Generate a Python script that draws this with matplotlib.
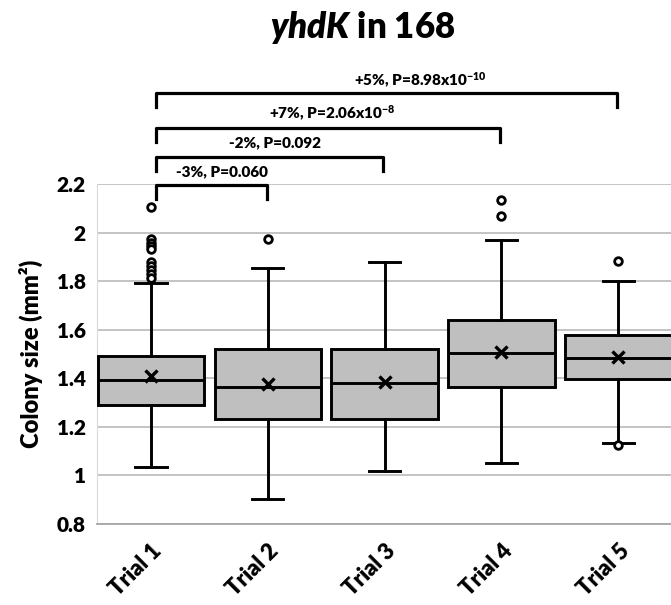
import matplotlib.pyplot as plt
from matplotlib.ticker import FuncFormatter

plt.rcParams['font.family'] = ['Lato', 'DejaVu Sans']
plt.rcParams['font.weight'] = 'heavy'
plt.rcParams['axes.labelweight'] = 'heavy'
plt.rcParams['mathtext.fontset'] = 'custom'
plt.rcParams['mathtext.rm'] = 'Lato:heavy'
plt.rcParams['mathtext.bf'] = 'Lato:heavy'
plt.rcParams['mathtext.bfit'] = 'Lato:italic:heavy'
plt.rcParams['mathtext.default'] = 'bf'

# colony size summary per trial (mm^2)
trials = ["Trial 1", "Trial 2", "Trial 3", "Trial 4", "Trial 5"]
q1 = [1.289, 1.232, 1.232, 1.363, 1.397]
medians = [1.393, 1.364, 1.383, 1.505, 1.485]
q3 = [1.493, 1.521, 1.521, 1.640, 1.579]
means = [1.411, 1.375, 1.385, 1.508, 1.487]
whisker_low = [1.033, 0.901, 1.019, 1.052, 1.132]
whisker_high = [1.793, 1.856, 1.881, 1.970, 1.800]
outliers = [
    [2.105, 1.975, 1.960, 1.945, 1.932, 1.878, 1.862, 1.846, 1.830, 1.813],
    [1.976],
    [],
    [2.135, 2.071],
    [1.885, 1.125],
]

# pairwise comparisons against trial 1
comparisons = [(1, 2), (1, 3), (1, 4), (1, 5)]
comparison_labels = ["-3%, P=0.060", "-2%, P=0.092",
                     "+7%, P=2.06x10$^{-8}$", "+5%, P=8.98x10$^{-10}$"]

stats = []
for i in range(len(trials)):
    stats.append(dict(label=trials[i], q1=q1[i], med=medians[i], q3=q3[i],
                      mean=means[i], whislo=whisker_low[i],
                      whishi=whisker_high[i], fliers=outliers[i]))

fig = plt.figure(figsize=(6.71, 6.05), dpi=100)
ax = fig.add_axes([0.1446, 0.1339, 0.8554, 0.5615])

lw = 2.1
ax.bxp(stats, positions=range(1, 6), widths=0.91, capwidths=0.27,
       showmeans=True, patch_artist=True,
       boxprops=dict(facecolor='#bfbfbf', edgecolor='black', linewidth=lw),
       medianprops=dict(color='black', linewidth=lw),
       whiskerprops=dict(color='black', linewidth=lw),
       capprops=dict(color='black', linewidth=lw),
       meanprops=dict(marker='x', markeredgecolor='black', markersize=8,
                      markeredgewidth=2.4),
       flierprops=dict(marker='o', markerfacecolor='white',
                       markeredgecolor='black', markersize=5.5,
                       markeredgewidth=2.0),
       zorder=3)

ax.set_xlim(0.54, 5.45)
ax.set_ylim(0.8, 2.2)
ax.set_yticks([0.8, 1.0, 1.2, 1.4, 1.6, 1.8, 2.0, 2.2])
ax.yaxis.set_major_formatter(FuncFormatter(lambda v, p: f"{v:g}"))
ax.grid(axis='y', color='#bfbfbf', linewidth=1.3, zorder=0)
ax.set_axisbelow(True)
ax.tick_params(length=0, labelsize=15, pad=8)
ax.set_xticks(range(1, 6))
ax.set_xticklabels(trials, rotation=45, ha='right', rotation_mode='anchor',
                   fontsize=16)
ax.tick_params(axis='x', pad=12)

for side in ['top', 'right']:
    ax.spines[side].set_visible(False)
ax.spines['left'].set_color('#d9d9d9')
ax.spines['bottom'].set_color('#a6a6a6')
ax.spines['bottom'].set_linewidth(1.3)

ax.set_ylabel("Colony size (mm²)", fontsize=17, labelpad=10)

# significance brackets above the boxes
bracket_top = [2.197, 2.311, 2.434, 2.575]
bracket_drop = 0.058
label_x = [1.61, 2.06, 2.55, 3.31]
label_y = [2.252, 2.372, 2.494, 2.630]
for k, (a, b) in enumerate(comparisons):
    x0 = a + 0.043
    x1 = b - 0.01
    yt = bracket_top[k]
    ax.plot([x0, x0, x1, x1], [yt - bracket_drop, yt, yt, yt - bracket_drop],
            color='black', linewidth=2.3, clip_on=False,
            solid_joinstyle='round', zorder=4)
    ax.text(label_x[k], label_y[k], comparison_labels[k], ha='center',
            va='center', fontsize=11)

fig.text(0.54, 0.955, r"$\mathbfit{yhdK}$ in 168", ha='center', va='center',
         fontsize=25)

fig.savefig('out.png', dpi=100)
